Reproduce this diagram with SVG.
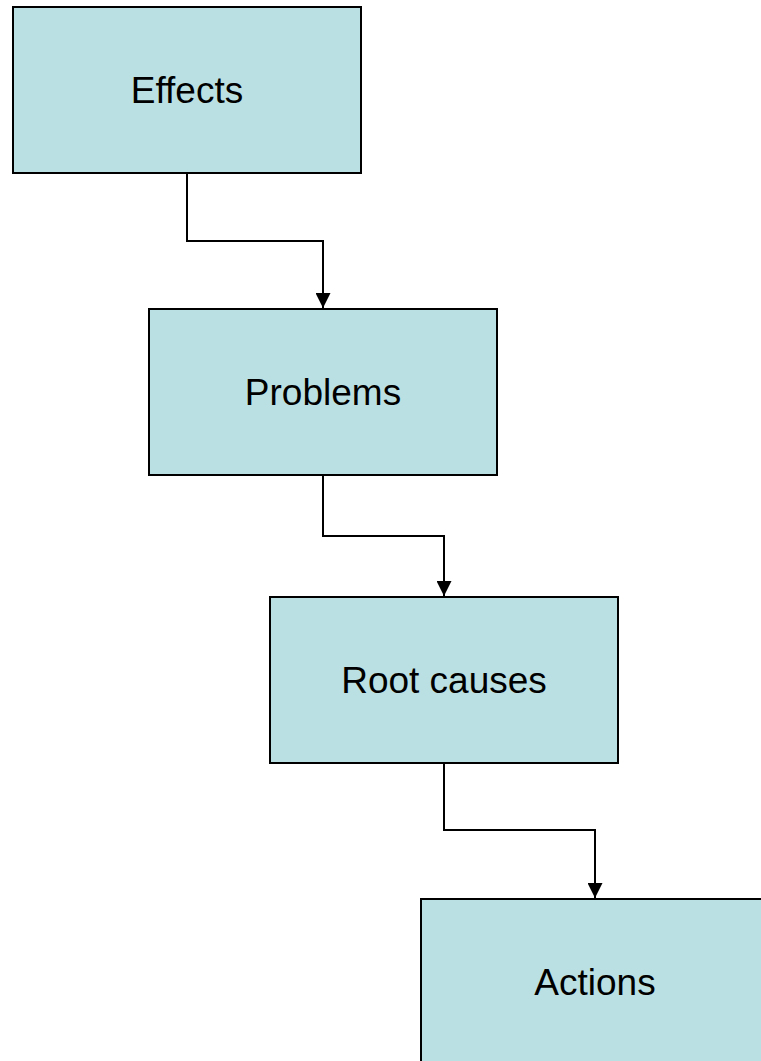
<svg xmlns="http://www.w3.org/2000/svg" width="761" height="1061" viewBox="0 0 761 1061">
<style>
.box{fill:#bbe0e3;stroke:#000;stroke-width:2}
.lbl{font-family:"Liberation Sans",Arial,sans-serif;font-size:37px;fill:#000;text-anchor:middle}
.conn{fill:none;stroke:#000;stroke-width:2}
</style>
<defs>
<marker id="arr" viewBox="0 0 10 10" refX="10" refY="5" markerWidth="16" markerHeight="15" markerUnits="userSpaceOnUse" orient="auto">
<path d="M0,0 L10,5 L0,10 z" fill="#000"/>
</marker>
</defs>
<rect width="761" height="1061" fill="#fff"/>
<g id="connectors">
<path class="conn" d="M187,173 V241 H323 V308" marker-end="url(#arr)"/>
<path class="conn" d="M323,475 V536 H444 V596" marker-end="url(#arr)"/>
<path class="conn" d="M444,763 V830 H595 V898" marker-end="url(#arr)"/>
</g>
<g id="effects"><rect class="box" x="13" y="7" width="348" height="166"/><text class="lbl" x="187" y="103">Effects</text></g>
<g id="problems"><rect class="box" x="149" y="309" width="348" height="166"/><text class="lbl" x="323" y="405">Problems</text></g>
<g id="root-causes"><rect class="box" x="270" y="597" width="348" height="166"/><text class="lbl" x="444" y="693">Root causes</text></g>
<g id="actions"><rect class="box" x="421" y="899" width="348" height="166"/><text class="lbl" x="595" y="995">Actions</text></g>
</svg>
